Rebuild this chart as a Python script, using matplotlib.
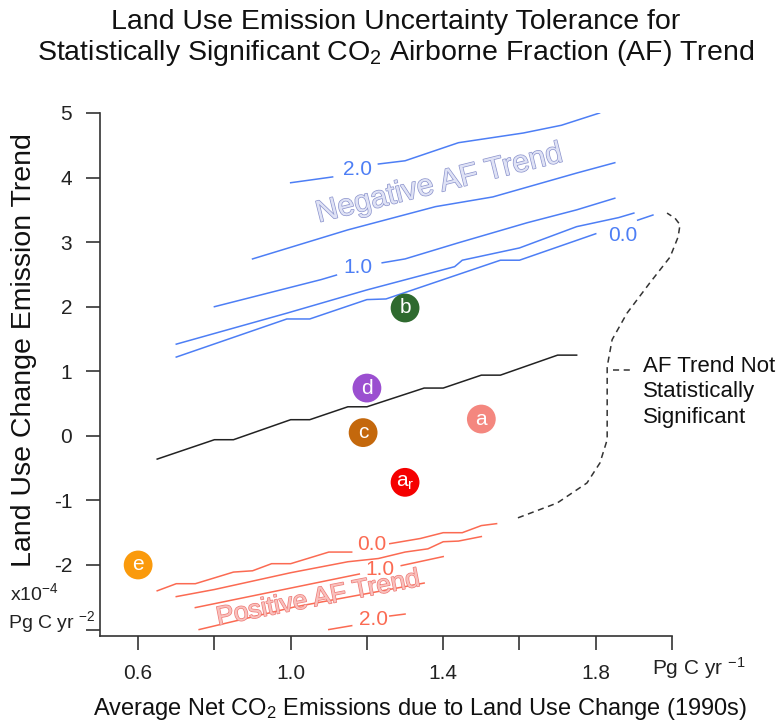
import numpy as np
import matplotlib
matplotlib.use("Agg")
import matplotlib.pyplot as plt
import matplotlib.patheffects as pe

plt.rcParams["font.family"] = ["Liberation Sans", "DejaVu Sans"]
plt.rcParams["mathtext.fontset"] = "custom"
plt.rcParams["mathtext.rm"] = "Liberation Sans"
plt.rcParams["mathtext.it"] = "Liberation Sans:italic"
plt.rcParams["mathtext.bf"] = "Liberation Sans:bold"

nan = np.nan

# ── Data ──────────────────────────────────────────────────────────────────────
# zero-trend line (black)
zero_x = [0.65, 0.80, 0.85, 1.00, 1.05, 1.15, 1.20, 1.35, 1.40, 1.50, 1.55, 1.70, 1.75]
zero_y = [-0.36, -0.06, -0.06, 0.25, 0.25, 0.45, 0.45, 0.74, 0.74, 0.94, 0.94, 1.25, 1.25]

# negative AF trend tolerance contours (blue), nan = label gap
neg_2_x = [1.00, 1.11, nan, 1.23, 1.30, 1.44, 1.61, 1.71, 1.81]
neg_2_y = [3.92, 4.01, nan, 4.21, 4.26, 4.54, 4.69, 4.81, 5.00]
neg_15_x = [0.90, 1.15, 1.38, 1.53, 1.75, 1.85]
neg_15_y = [2.74, 3.19, 3.55, 3.70, 4.07, 4.23]
neg_1_x = [0.80, 1.08, 1.12, nan, 1.24, 1.30, 1.44, 1.62, 1.75, 1.85]
neg_1_y = [2.00, 2.42, 2.49, nan, 2.68, 2.74, 2.99, 3.30, 3.50, 3.68]
neg_05_x = [0.70, 0.99, 1.20, 1.43, 1.45, 1.60, 1.75, 1.86, 1.90]
neg_05_y = [1.42, 1.90, 2.26, 2.62, 2.72, 2.91, 3.24, 3.38, 3.45]
neg_0_x = [0.70, 0.99, 1.05, 1.20, 1.25, 1.55, 1.60, 1.80, nan, 1.91, 1.95]
neg_0_y = [1.22, 1.81, 1.81, 2.11, 2.12, 2.72, 2.72, 3.13, nan, 3.34, 3.42]

# positive AF trend tolerance contours (red)
pos_0_x = [0.65, 0.70, 0.75, 0.85, 0.90, 0.95, 1.00, 1.10, 1.16, nan, 1.26, 1.34, 1.40, 1.45, 1.50, 1.54]
pos_0_y = [-2.40, -2.29, -2.29, -2.11, -2.09, -1.98, -1.98, -1.80, -1.80, nan, -1.67, -1.59, -1.50, -1.50, -1.39, -1.36]
pos_05_x = [0.70, 0.80, 0.90, 1.00, 1.15, 1.23, 1.30, 1.36, 1.40, 1.44, 1.50]
pos_05_y = [-2.49, -2.38, -2.25, -2.12, -1.95, -1.90, -1.80, -1.75, -1.64, -1.63, -1.56]
pos_1_x = [0.75, 0.99, 1.18, nan, 1.29, 1.40]
pos_1_y = [-2.66, -2.37, -2.14, nan, -2.01, -1.87]
pos_15_x = [0.76, 1.01, 1.35]
pos_15_y = [-3.00, -2.65, -2.28]
pos_2_x = [1.10, 1.16, nan, 1.26, 1.30]
pos_2_y = [-3.00, -2.94, nan, -2.79, -2.76]

# contour labels
neg_lab_text = ["2.0", "1.0", "0.0"]
neg_lab_x = [1.174, 1.177, 1.872]
neg_lab_y = [4.12, 2.60, 3.11]
pos_lab_text = ["0.0", "1.0", "2.0"]
pos_lab_x = [1.213, 1.234, 1.216]
pos_lab_y = [-1.69, -2.07, -2.85]

# "not significant" boundary (dashed)
bound_x = [1.596, 1.699, 1.777, 1.811, 1.830, 1.830, 1.830, 1.843, 1.882, 1.942, 1.995, 2.016, 2.021, 2.008, 1.987]
bound_y = [-1.27, -1.04, -0.73, -0.42, -0.06, 0.56, 1.07, 1.49, 1.90, 2.37, 2.77, 3.08, 3.27, 3.37, 3.45]

# case markers
case_labels = ["b", "d", "c", "a", "a$_\\mathrm{r}$", "e"]
case_x = [1.30, 1.20, 1.19, 1.50, 1.30, 0.60]
case_y = [1.98, 0.74, 0.05, 0.26, -0.72, -2.00]
case_colors = ["#2f6a2f", "#9b4fd0", "#c4680c", "#f4877f", "#f50000", "#fa9a0c"]

x_ticks = [0.6, 0.8, 1.0, 1.2, 1.4, 1.6, 1.8, 2.0]
x_ticklabels = ["0.6", "", "1.0", "", "1.4", "", "1.8", ""]
y_ticks = [5, 4, 3, 2, 1, 0, -1, -2, -3]
y_ticklabels = ["5", "4", "3", "2", "1", "0", "-1", "-2", ""]

BLUE = "#4d7ef5"
RED = "#fb6a52"

# ── Figure ────────────────────────────────────────────────────────────────────
fig = plt.figure(figsize=(7.79, 7.21), dpi=100)
ax = fig.add_axes([100 / 779, 1 - 636 / 721, 572 / 779, 523 / 721])
ax.set_xlim(0.5, 2.0)
ax.set_ylim(-3.1, 5.0)

for xs, ys in [(neg_2_x, neg_2_y), (neg_15_x, neg_15_y), (neg_1_x, neg_1_y),
               (neg_05_x, neg_05_y), (neg_0_x, neg_0_y)]:
    ax.plot(xs, ys, color=BLUE, lw=1.1)
for xs, ys in [(pos_0_x, pos_0_y), (pos_05_x, pos_05_y), (pos_1_x, pos_1_y),
               (pos_15_x, pos_15_y), (pos_2_x, pos_2_y)]:
    ax.plot(xs, ys, color=RED, lw=1.1)
ax.plot(zero_x, zero_y, color="#222222", lw=1.1)

for t, x, y in zip(neg_lab_text, neg_lab_x, neg_lab_y):
    ax.text(x, y, t, color=BLUE, fontsize=15, ha="center", va="center")
for t, x, y in zip(pos_lab_text, pos_lab_x, pos_lab_y):
    ax.text(x, y, t, color=RED, fontsize=15, ha="center", va="center")

ax.text(1.389, 3.90, "Negative AF Trend", fontsize=22, rotation=14, rotation_mode="anchor",
        ha="center", va="center", color="#dfe2f5",
        path_effects=[pe.Stroke(linewidth=1.0, foreground="#8a92cc"), pe.Normal()])
ax.text(1.072, -2.52, "Positive AF Trend", fontsize=19, rotation=11, rotation_mode="anchor",
        ha="center", va="center", color="#f9c0bc",
        path_effects=[pe.Stroke(linewidth=1.0, foreground="#ee7a76"), pe.Normal()])

ax.plot(bound_x, bound_y, color="#333333", lw=1.1, ls=(0, (4, 3)), clip_on=False)
ax.plot([1.845, 1.895], [1.02, 1.02], color="#333333", lw=1.1, ls=(0, (4, 3)), clip_on=False)
ax.text(1.924, 0.68, "AF Trend Not\nStatistically\nSignificant", fontsize=16,
        ha="left", va="center", linespacing=1.3, color="#111111")

ax.scatter(case_x, case_y, s=430, c=case_colors, edgecolors="none", zorder=5)
for lab, x, y in zip(case_labels, case_x, case_y):
    ax.text(x, y, lab, color="white", fontsize=15, ha="center", va="center", zorder=6)

for side in ["top", "right"]:
    ax.spines[side].set_visible(False)
for side in ["left", "bottom"]:
    ax.spines[side].set_color("#333333")
    ax.spines[side].set_linewidth(1.2)
ax.set_xticks(x_ticks)
ax.set_xticklabels(x_ticklabels)
ax.set_yticks(y_ticks)
ax.set_yticklabels(y_ticklabels)
ax.tick_params(axis="both", direction="out", length=10, width=1.2, pad=10,
               labelsize=15, color="#333333", labelcolor="#222222")

ax.text(1.948, -0.061, "Pg C yr $^{-1}$", transform=ax.get_xaxis_transform(),
        fontsize=15, ha="left", va="center", color="#222222")
fig.text(10 / 779, 1 - 593 / 721, "x10$^{-4}$", fontsize=14, ha="left", va="center", color="#222222")
fig.text(95 / 779, 1 - 622 / 721, "Pg C yr $^{-2}$", fontsize=14, ha="right", va="center", color="#222222")

fig.text(396 / 779, 1 - 9 / 721,
         "Land Use Emission Uncertainty Tolerance for\n"
         "Statistically Significant CO$_2$ Airborne Fraction (AF) Trend",
         fontsize=20.5, ha="center", va="top", linespacing=1.15, color="#111111")
fig.text(24 / 779, 1 - 350 / 721, "Land Use Change Emission Trend", fontsize=20.5,
         rotation=90, ha="center", va="center", color="#111111")
fig.text(420 / 779, 1 - 715 / 721,
         "Average Net CO$_2$ Emissions due to Land Use Change (1990s)",
         fontsize=17, ha="center", va="baseline", color="#111111")

fig.savefig("out.png", dpi=100, facecolor="white")
